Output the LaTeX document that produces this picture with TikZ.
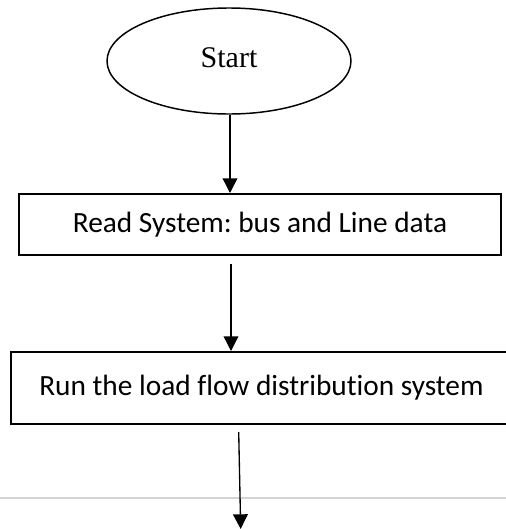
\documentclass[tikz,border=0pt]{standalone}
\usepackage{fontspec}
\setmainfont{Carlito}[Ligatures=NoCommon]
\newfontfamily\startfont{Liberation Serif}
\usetikzlibrary{shapes.geometric,arrows.meta}
\frenchspacing

\begin{document}
\begin{tikzpicture}[x=0.75pt,y=-0.75pt,
  terminal/.style={ellipse,draw,line width=1.1pt,minimum width=183pt,minimum height=79.5pt,inner sep=0pt,
    font=\startfont\fontsize{22.5}{26}\selectfont},
  stepbox/.style={rectangle,draw,line width=1.5pt,inner sep=0pt,
    font=\fontsize{22}{26}\selectfont},
  flow/.style={line width=1pt,-{Triangle[width=11pt,length=11pt]}},
  rule/.style={line width=1.5pt,color=black!17}]
\useasboundingbox (0,0) rectangle (506,529);
\clip (0,0) rectangle (506,529);

% start terminal
\node[terminal] (start) at (229,61) {\raisebox{5pt}{Start}};

% process boxes (the second one runs past the right margin)
\node[stepbox,minimum width=361.5pt,minimum height=45.75pt] (read) at (260,224.5) {Read System: bus and Line data};
\node[stepbox,minimum width=390pt,minimum height=54pt] (run) at (271,388) {\raisebox{3pt}{Run the load flow distribution system}\hspace*{14.25pt}};

% faint page rule
\coordinate (ruleL) at (0,498);
\coordinate (ruleR) at (506,498);
\draw[rule] (ruleL) -- (ruleR);

% connectors
\coordinate (a1) at (230,0);
\draw[flow] (start.south -| a1) -- (read.north -| a1);
\coordinate (a2) at (231,264);
\draw[flow] (a2) -- (run.north -| a2);
\coordinate (a3) at (238.7,432);
\coordinate (a3end) at (240.7,529);
\draw[flow] (a3) -- (a3end);
\end{tikzpicture}
\end{document}
